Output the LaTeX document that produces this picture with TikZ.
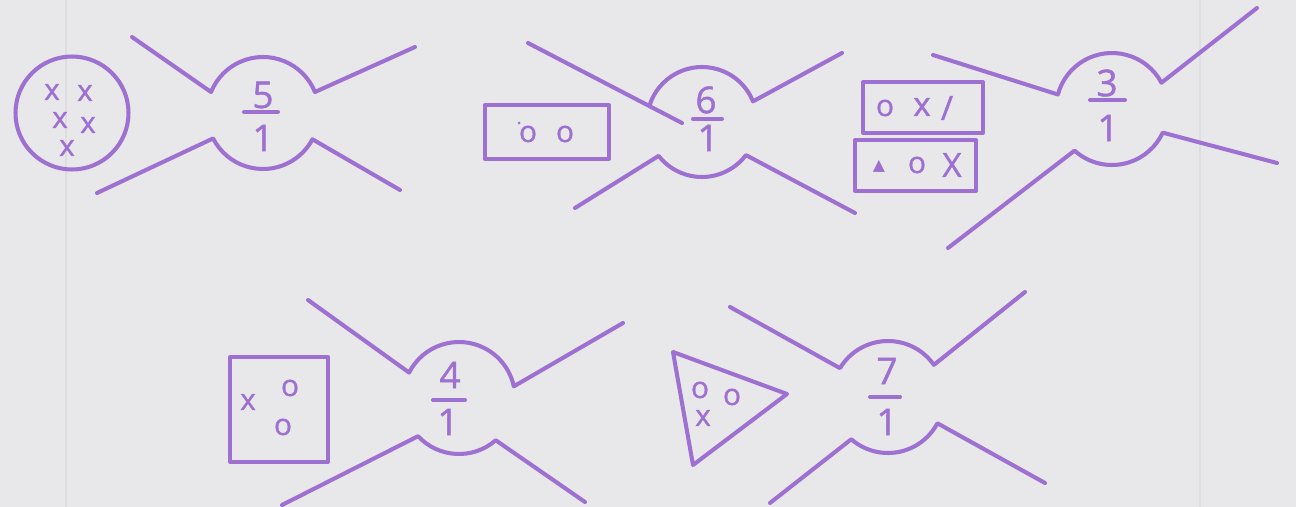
\documentclass[tikz,border=0pt]{standalone}
\usepackage{fontspec}
\setmainfont{Open Sans}
\newfontfamily\inkfont{Open Sans}[FakeBold=1.2]
\newfontfamily\symfont{DejaVu Sans}
\usetikzlibrary{calc}
\definecolor{ink}{HTML}{9D70D2}
\definecolor{paper}{HTML}{E8E8EA}
\definecolor{rule}{HTML}{DEDEE0}
\begin{document}
\begin{tikzpicture}[x=0.02cm,y=-0.02cm,
  stroke/.style={draw=ink, line width=2.3pt, line cap=round, line join=round},
  digit/.style={text=ink, inner sep=0pt, font=\inkfont\fontsize{21}{21}\selectfont},
  smalltext/.style={text=ink, inner sep=0pt, font=\inkfont\fontsize{17}{17}\selectfont},
  bigtext/.style={text=ink, inner sep=0pt, font=\inkfont\fontsize{19}{19}\selectfont}]
\fill[paper] (0,0) rectangle (1296,507);
\useasboundingbox (0,0) rectangle (1296,507);
\draw[rule, line width=1pt] (66,0) -- (66,507);
\draw[rule, line width=1pt] (1200,0) -- (1200,507);

% ---------- unit 1 : 5/1 ----------
\draw[stroke] (72,113) circle[radius=56.5];
\node[smalltext] (c1) at (52,92) {x};
\node[smalltext] (c2) at (85,93) {x};
\node[smalltext] (c3) at (60,120) {x};
\node[smalltext] (c4) at (88,125) {x};
\node[smalltext] (c5) at (67,148) {x};
\draw[stroke] (132,37) -- ($(263,113)+(202:56)$) arc[start angle=202,end angle=338,radius=56] -- (415,47);
\draw[stroke] (97,193) -- ($(263,113)+(153:56)$) arc[start angle=153,end angle=28,radius=56] -- (400,190);
\node[digit] (n1) at (263,95) {5};
\node[digit] (d1) at (263,138) {1};
\draw[stroke] (244,112) -- (278,112);

% ---------- unit 2 : 6/1 ----------
\draw[stroke] (485,105) rectangle (609,159);
\fill[ink] (519,123) circle[radius=1.5];
\node[smalltext] (b1) at (528,134) {o};
\node[smalltext] (b2) at (565,134) {o};
\draw[stroke] (528,43) -- (682,123);
\draw[stroke] ($(702,122)+(197:55)$) arc[start angle=197,end angle=338,radius=55] -- (842,53);
\draw[stroke] (575,208) -- ($(702,122)+(142:55)$) arc[start angle=142,end angle=37,radius=55] -- (855,213);
\node[digit] (n2) at (706,100) {6};
\node[digit] (d2) at (708,138) {1};
\draw[stroke] (693,119) -- (722,119);

% ---------- unit 3 : 3/1 ----------
\draw[stroke] (863,82) rectangle (983,133);
\draw[stroke] (855,140) rectangle (976,191);
\node[smalltext] (e1) at (885,108) {o};
\node[bigtext] (e2) at (922,107) {x};
\node[bigtext] (e3) at (947,108) {/};
\node[text=ink, inner sep=0pt, font=\symfont\fontsize{9}{9}\selectfont] (f1) at (879,166) {▲};
\node[smalltext] (f2) at (917,165) {o};
\node[bigtext] (f3) at (952,165) {X};
\draw[stroke] (933,55) -- ($(1112,109)+(195:56)$) arc[start angle=195,end angle=332,radius=56] -- (1257,8);
\draw[stroke] (948,248) -- ($(1112,109)+(132:56)$) arc[start angle=132,end angle=25,radius=56] -- (1277,163);
\node[digit] (n3) at (1107,83) {3};
\node[digit] (d3) at (1108,128) {1};
\draw[stroke] (1090,100) -- (1125,100);

% ---------- unit 4 : 4/1 ----------
\draw[stroke] (230,357) rectangle (328,462);
\node[smalltext] (g1) at (248,402) {x};
\node[smalltext] (g2) at (290,388) {o};
\node[smalltext] (g3) at (283,427) {o};
\draw[stroke] (308,300) -- ($(459,398)+(207:56)$) arc[start angle=207,end angle=348,radius=56] -- (623,323);
\draw[stroke] (282,505) -- ($(459,398)+(137:56)$) arc[start angle=137,end angle=49,radius=56] -- (585,502);
\node[digit] (n4) at (450,375) {4};
\node[digit] (d4) at (448,422) {1};
\draw[stroke] (433,400) -- (465,400);

% ---------- unit 5 : 7/1 ----------
\draw[stroke] (673,352) -- (787,394) -- (693,465) -- cycle;
\node[smalltext] (h1) at (700,390) {o};
\node[smalltext] (h2) at (732,397) {o};
\node[smalltext] (h3) at (703,418) {x};
\draw[stroke] (730,307) -- ($(888,397)+(211:56)$) arc[start angle=211,end angle=325,radius=56] -- (1025,292);
\draw[stroke] (770,503) -- ($(888,397)+(131:56)$) arc[start angle=131,end angle=28,radius=56] -- (1045,483);
\node[digit] (n5) at (887,371) {7};
\node[digit] (d5) at (887,422) {1};
\draw[stroke] (870,397) -- (900,397);
\end{tikzpicture}
\end{document}
